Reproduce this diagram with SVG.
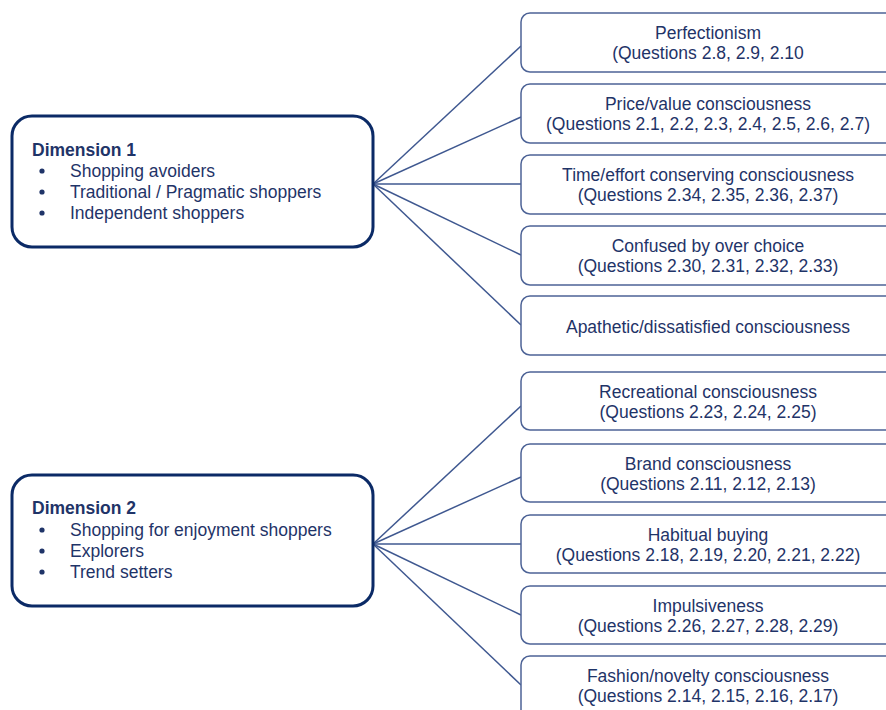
<svg xmlns="http://www.w3.org/2000/svg" width="886" height="710" viewBox="0 0 886 710">
<style>
text{font-family:"Liberation Sans",Arial,sans-serif;font-size:17.5px;fill:#1f3468}
.c{text-anchor:middle}
.b{font-weight:bold}
.dim{fill:#fff;stroke:#0b2a66;stroke-width:3}
.fac{fill:#fff;stroke:#4d6396;stroke-width:1.5}
.con line{stroke:#3f5890;stroke-width:1.5}
</style>
<rect width="886" height="710" fill="#fff"/>
<g class="con" id="connectors">
<line x1="373" y1="184" x2="521" y2="46"/>
<line x1="373" y1="184" x2="521" y2="117"/>
<line x1="373" y1="184" x2="521" y2="184"/>
<line x1="373" y1="184" x2="521" y2="255"/>
<line x1="373" y1="184" x2="521" y2="325"/>
<line x1="373" y1="544" x2="521" y2="406"/>
<line x1="373" y1="544" x2="521" y2="477"/>
<line x1="373" y1="544" x2="521" y2="544"/>
<line x1="373" y1="544" x2="521" y2="615"/>
<line x1="373" y1="544" x2="521" y2="685"/>
</g>
<g id="dim1">
<rect class="dim" x="12" y="116" width="361" height="131" rx="20"/>
<text class="b" x="32" y="156">Dimension 1</text>
<circle cx="42" cy="171" r="2.6" fill="#1f3468"/>
<circle cx="42" cy="192" r="2.6" fill="#1f3468"/>
<circle cx="42" cy="213" r="2.6" fill="#1f3468"/>
<text x="70" y="177">Shopping avoiders</text>
<text x="70" y="198">Traditional / Pragmatic shoppers</text>
<text x="70" y="219">Independent shoppers</text>
</g>
<g id="dim2">
<rect class="dim" x="12" y="475" width="361" height="131" rx="20"/>
<text class="b" x="32" y="514">Dimension 2</text>
<circle cx="42" cy="530" r="2.6" fill="#1f3468"/>
<circle cx="42" cy="551" r="2.6" fill="#1f3468"/>
<circle cx="42" cy="572" r="2.6" fill="#1f3468"/>
<text x="70" y="536">Shopping for enjoyment shoppers</text>
<text x="70" y="557">Explorers</text>
<text x="70" y="578">Trend setters</text>
</g>
<g id="perfectionism">
<rect class="fac" x="521" y="13" width="380" height="59" rx="9"/>
<text class="c" x="708" y="39">Perfectionism</text>
<text class="c" x="708" y="59">(Questions 2.8, 2.9, 2.10</text>
</g>
<g id="price">
<rect class="fac" x="521" y="84" width="380" height="59" rx="9"/>
<text class="c" x="708" y="110">Price/value consciousness</text>
<text class="c" x="708" y="130">(Questions 2.1, 2.2, 2.3, 2.4, 2.5, 2.6, 2.7)</text>
</g>
<g id="time">
<rect class="fac" x="521" y="155" width="380" height="59" rx="9"/>
<text class="c" x="708" y="181">Time/effort conserving consciousness</text>
<text class="c" x="708" y="201">(Questions 2.34, 2.35, 2.36, 2.37)</text>
</g>
<g id="confused">
<rect class="fac" x="521" y="226" width="380" height="59" rx="9"/>
<text class="c" x="708" y="252">Confused by over choice</text>
<text class="c" x="708" y="272">(Questions 2.30, 2.31, 2.32, 2.33)</text>
</g>
<g id="apathetic">
<rect class="fac" x="521" y="296" width="380" height="59" rx="9"/>
<text class="c" x="708" y="333">Apathetic/dissatisfied consciousness</text>
</g>
<g id="recreational">
<rect class="fac" x="521" y="372" width="380" height="58" rx="9"/>
<text class="c" x="708" y="398">Recreational consciousness</text>
<text class="c" x="708" y="418">(Questions 2.23, 2.24, 2.25)</text>
</g>
<g id="brand">
<rect class="fac" x="521" y="444" width="380" height="58" rx="9"/>
<text class="c" x="708" y="470">Brand consciousness</text>
<text class="c" x="708" y="490">(Questions 2.11, 2.12, 2.13)</text>
</g>
<g id="habitual">
<rect class="fac" x="521" y="515" width="380" height="58" rx="9"/>
<text class="c" x="708" y="541">Habitual buying</text>
<text class="c" x="708" y="561">(Questions 2.18, 2.19, 2.20, 2.21, 2.22)</text>
</g>
<g id="impulsiveness">
<rect class="fac" x="521" y="586" width="380" height="58" rx="9"/>
<text class="c" x="708" y="612">Impulsiveness</text>
<text class="c" x="708" y="632">(Questions 2.26, 2.27, 2.28, 2.29)</text>
</g>
<g id="fashion">
<rect class="fac" x="521" y="656" width="380" height="70" rx="9"/>
<text class="c" x="708" y="682">Fashion/novelty consciousness</text>
<text class="c" x="708" y="702">(Questions 2.14, 2.15, 2.16, 2.17)</text>
</g>
</svg>
